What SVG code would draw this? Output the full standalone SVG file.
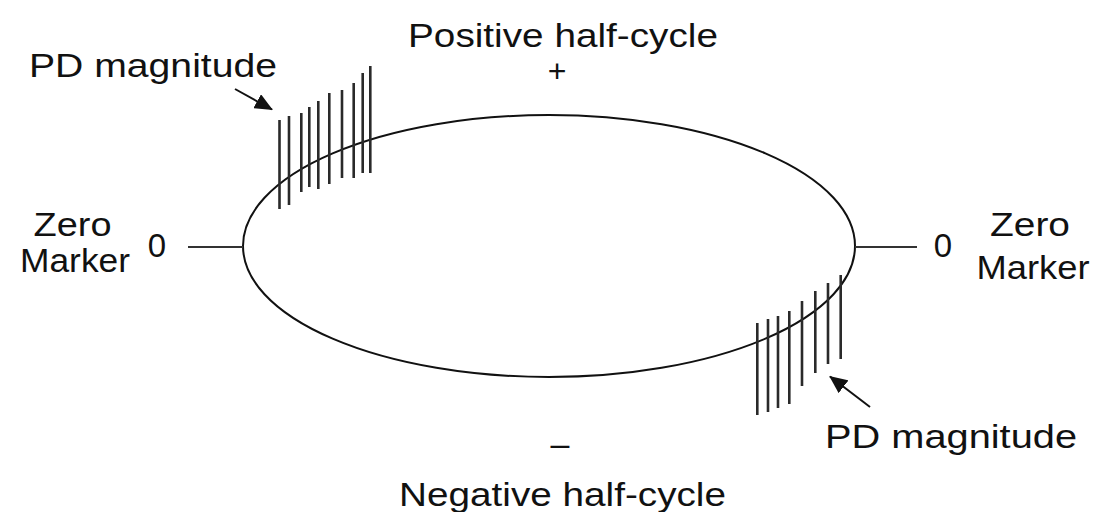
<svg xmlns="http://www.w3.org/2000/svg" width="1097" height="512" viewBox="0 0 1097 512">
  <style>
    .t { font-family: "Liberation Sans", Arial, sans-serif; font-size: 32.5px; fill: #111; }
    .num { font-family: "Liberation Sans", Arial, sans-serif; font-size: 33px; fill: #111; }
    .pd { stroke: #2a2a2a; stroke-width: 2.6; fill: none; }
    .zl { stroke: #333; stroke-width: 2; fill: none; }
    .arr { stroke: #111; stroke-width: 2; fill: none; }
  </style>
  <defs>
    <marker id="ahb" viewBox="0 0 18 16" refX="17" refY="8" markerWidth="18" markerHeight="16" markerUnits="userSpaceOnUse" orient="auto">
      <path d="M0,0 L18,8 L0,16 z" fill="#111"/>
    </marker>
  </defs>
  <rect width="1097" height="512" fill="#fff"/>

  <g id="cycle">
    <ellipse cx="549" cy="246" rx="306" ry="131" fill="none" stroke="#111" stroke-width="2"/>
  </g>

  <g id="pd-positive">
    <path class="pd" d="M279.5,120 V209 M289,116 V205 M301.3,113 V192 M309.3,107 V187 M318.3,101 V189 M329.3,93 V184 M342,90 V178 M353.7,83 V178 M362.7,73 V173 M370.3,66 V173"/>
  </g>

  <g id="pd-negative">
    <path class="pd" d="M757.3,323 V415 M768,319 V412 M778,316 V408 M789.3,311 V404 M802,301 V386 M815.3,291 V373 M828,283 V364 M840.7,275 V359"/>
  </g>

  <g id="connectors">
    <line class="zl" x1="188" y1="247" x2="243" y2="247"/>
    <line class="zl" x1="855" y1="247" x2="917" y2="247"/>
    <line class="arr" x1="235" y1="89" x2="272" y2="109.5" marker-end="url(#ahb)"/>
    <line class="arr" x1="870" y1="407" x2="830" y2="376.5" marker-end="url(#ahb)"/>
  </g>

  <g id="label-pd-top">
    <text class="t" x="29" y="77" textLength="248" lengthAdjust="spacingAndGlyphs">PD magnitude</text>
  </g>
  <g id="label-pd-bottom">
    <text class="t" x="825" y="448" textLength="252" lengthAdjust="spacingAndGlyphs">PD magnitude</text>
  </g>
  <g id="label-positive">
    <text class="t" x="408" y="47" textLength="310" lengthAdjust="spacingAndGlyphs">Positive half-cycle</text>
    <text class="t" x="557" y="82" text-anchor="middle" style="font-size:32px">+</text>
  </g>
  <g id="label-negative">
    <text class="t" x="560" y="455" text-anchor="middle" style="font-size:34px">–</text>
    <text class="t" x="399" y="506" textLength="327" lengthAdjust="spacingAndGlyphs">Negative half-cycle</text>
  </g>
  <g id="zero-left">
    <text class="t" x="72.5" y="236" text-anchor="middle" textLength="78" lengthAdjust="spacingAndGlyphs">Zero</text>
    <text class="t" x="75" y="272" text-anchor="middle" textLength="110" lengthAdjust="spacingAndGlyphs">Marker</text>
    <text class="num" x="157" y="257" text-anchor="middle">0</text>
  </g>
  <g id="zero-right">
    <text class="num" x="943" y="257" text-anchor="middle">0</text>
    <text class="t" x="1030" y="236" text-anchor="middle" textLength="80" lengthAdjust="spacingAndGlyphs">Zero</text>
    <text class="t" x="1033" y="279" text-anchor="middle" textLength="113" lengthAdjust="spacingAndGlyphs">Marker</text>
  </g>
</svg>
